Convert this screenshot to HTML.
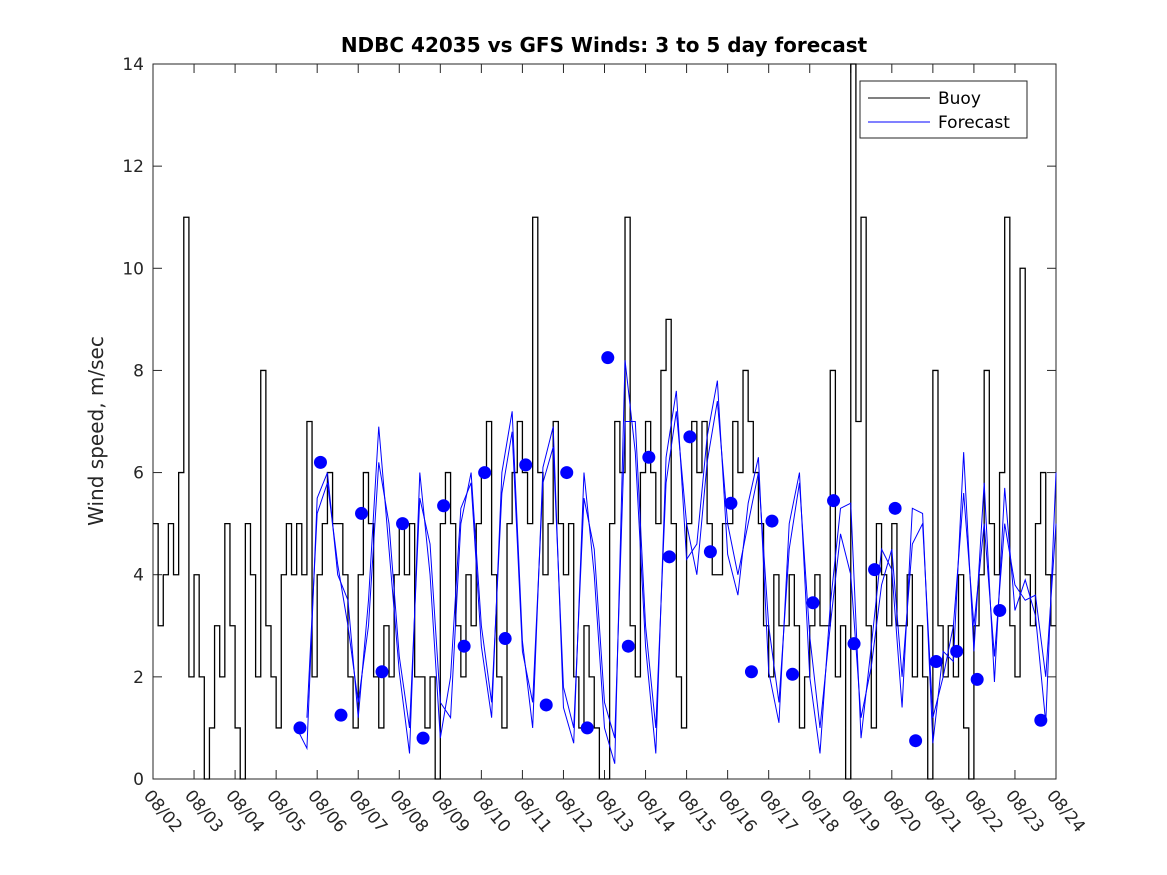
<!DOCTYPE html>
<html><head><meta charset="utf-8"><style>
body{margin:0;background:#fff;}
svg{display:block;font-family:"DejaVu Sans","Liberation Sans",sans-serif;}
</style></head><body>
<svg id="chart" width="1167" height="875" viewBox="0 0 1167 875" xmlns="http://www.w3.org/2000/svg">
<rect x="0" y="0" width="1167" height="875" fill="#fff"/>
<rect x="153" y="64" width="903" height="715" fill="#fff" stroke="#262626" stroke-width="1"/>
<text x="604" y="52" text-anchor="middle" font-size="20" font-weight="bold" fill="#000">NDBC 42035 vs GFS Winds: 3 to 5 day forecast</text>
<text transform="translate(103,431) rotate(-90)" text-anchor="middle" font-size="20" fill="#262626">Wind speed, m/sec</text>
<g id="grid"></g>
<g id="series"></g>
<g>
<rect x="860" y="81" width="167" height="57" fill="#fff" stroke="#262626" stroke-width="1"/>
<line x1="868" y1="98" x2="930" y2="98" stroke="#000" stroke-width="1"/>
<text x="938" y="104" font-size="17" fill="#000">Buoy</text>
<line x1="868" y1="122" x2="930" y2="122" stroke="#0000ff" stroke-width="1"/>
<text x="938" y="128" font-size="17" fill="#000">Forecast</text>
</g>
</svg>
<script>
const xLabels=["08/02","08/03","08/04","08/05","08/06","08/07","08/08","08/09","08/10","08/11","08/12","08/13","08/14","08/15","08/16","08/17","08/18","08/19","08/20","08/21","08/22","08/23","08/24"];
const yTicks=[0,2,4,6,8,10,12,14];
// buoy values, eighth-day steps from 08/02
const buoy=[5,3,4,5,4,6,11,2, 4,2,0,1,3,2,5,3, 1,0,5,4,2,8,3,2, 1,4,5,4,5,4,7,2, 4,5,6,5,5,4,2,1, 4,6,5,2,1,3,2,4, 5,4,5,2,2,1,2,0, 5,6,5,3,2,4,3,5, 6,7,4,2,1,5,6,7, 6,5,11,6,4,5,7,5, 4,5,2,1,3,2,1,0, 0,5,7,6,11,3,2,6, 7,6,5,8,9,5,2,1, 5,7,6,7,5,4,4,5, 5,7,6,8,7,6,5,3, 2,4,3,3,4,3,1,2, 3,4,3,3,8,2,3,0, 14,7,11,3,1,5,4,3, 5,3,3,4,2,3,2,0, 8,3,2,3,2,4,1,0, 3,4,8,5,4,6,11,3, 2,10,4,3,5,6,4,3];
const fcStart=3.5;
const forecast=[1.0,0.6,5.5,6.0,4.0,3.5,1.2,3.5,6.9,4.5,2.1,0.5,6.0,4.0,0.8,2.0,5.3,5.8,2.6,1.2,6.0,7.2,2.7,1.0,6.1,6.9,1.4,0.7,6.0,4.0,1.0,0.3,8.2,6.4,2.6,0.5,6.3,7.6,4.3,4.6,6.7,7.8,4.4,3.6,5.4,6.3,2.1,1.1,5.0,6.0,2.0,0.5,3.4,5.3,5.4,0.8,2.6,4.5,4.1,1.4,5.3,5.2,0.7,2.5,2.3,6.4,2.5,5.8,1.9,5.7,3.3,3.9,3.2,1.1,6.0];
const fc2Start=3.75;
const forecast2=[1.2,5.2,5.8,4.2,3.0,1.5,3.0,6.2,5.0,2.4,1.0,5.5,4.6,1.5,1.2,5.0,6.0,3.0,1.5,5.6,6.8,2.5,1.5,5.8,6.5,1.8,1.0,5.5,4.5,1.5,0.8,7.0,7.0,3.0,1.0,5.8,7.2,5.0,4.0,6.2,7.4,5.0,4.0,5.0,6.0,3.0,1.5,4.5,5.8,2.8,1.0,3.0,4.8,4.0,1.2,2.2,3.8,4.5,2.0,4.6,5.0,1.2,2.0,3.0,5.6,3.0,5.0,2.4,5.0,3.8,3.5,3.6,2.0,5.0];
const dotDays=[3.58,4.08,4.58,5.08,5.58,6.08,6.58,7.08,7.58,8.08,8.58,9.08,9.58,10.08,10.58,11.08,11.58,12.08,12.58,13.08,13.58,14.08,14.58,15.08,15.58,16.08,16.58,17.08,17.58,18.08,18.58,19.08,19.58,20.08,20.63,21.63];
const dotVals=[1.0,6.2,1.25,5.2,2.1,5.0,0.8,5.35,2.6,6.0,2.75,6.15,1.45,6.0,1.0,8.25,2.6,6.3,4.35,6.7,4.45,5.4,2.1,5.05,2.05,3.45,5.45,2.65,4.1,5.3,0.75,2.3,2.5,1.95,3.3,1.15];

const X0=153,X1=1056,Y0=779,Y1=64;
const xs=d=>X0+(X1-X0)*d/22;
const ys=v=>Y0-(Y0-Y1)*v/14;
const NS="http://www.w3.org/2000/svg";
const grid=document.getElementById('grid'),ser=document.getElementById('series');
function mk(tag,attrs,parent){const e=document.createElementNS(NS,tag);for(const k in attrs)e.setAttribute(k,attrs[k]);parent.appendChild(e);return e;}
yTicks.forEach(v=>{
  const y=ys(v);
  mk('line',{x1:X0,y1:y,x2:X0+9,y2:y,stroke:'#262626'},grid);
  mk('line',{x1:X1,y1:y,x2:X1-9,y2:y,stroke:'#262626'},grid);
  const t=mk('text',{x:X0-9,y:y+6,'text-anchor':'end','font-size':17,fill:'#262626'},grid);
  t.textContent=v;
  
  
});
xLabels.forEach((l,i)=>{
  const x=xs(i);
  mk('line',{x1:x,y1:Y0,x2:x,y2:Y0-9,stroke:'#262626'},grid);
  mk('line',{x1:x,y1:Y1,x2:x,y2:Y1+9,stroke:'#262626'},grid);
  const t=mk('text',{transform:`translate(${x-10},${Y0+17}) rotate(50)`,'font-size':17,fill:'#262626'},grid);
  t.textContent=l;
  
  
});
// buoy step line
const step=0.125;
let p='';
buoy.forEach((v,i)=>{const xa=xs(i*step),xb=xs((i+1)*step),y=ys(v);p+=(i===0?`M${xa},${y}`:`V${y}`)+`H${xb}`;});
const bl=mk('path',{d:p,fill:'none',stroke:'#000','stroke-width':1.3},ser);


// forecast lines
const fp=forecast.map((v,i)=>`${i?'L':'M'}${xs(fcStart+i*0.25)},${ys(v)}`).join('');
const fl=mk('path',{d:fp,fill:'none',stroke:'#0000ff','stroke-width':1},ser);


const fp2=forecast2.map((v,i)=>`${i?'L':'M'}${xs(fc2Start+i*0.25)},${ys(v)}`).join('');
const fl2=mk('path',{d:fp2,fill:'none',stroke:'#0000ff','stroke-width':1},ser);


dotDays.forEach((d,i)=>{
  const c=mk('circle',{cx:xs(d),cy:ys(dotVals[i]),r:6.5,fill:'#0000ff'},ser);
  
  
});
</script>
</body></html>
